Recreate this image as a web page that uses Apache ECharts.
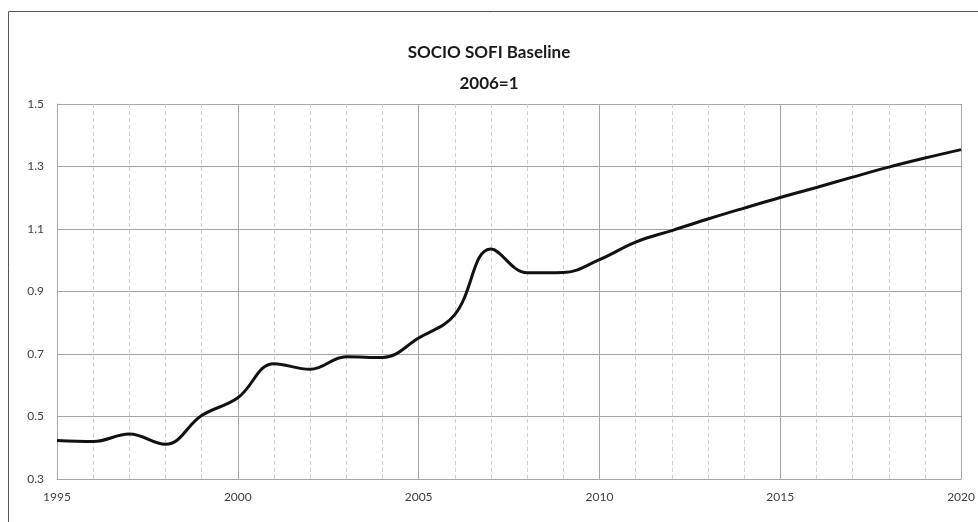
<!DOCTYPE html>
<html>
<head>
<meta charset="utf-8">
<script src="https://cdn.jsdelivr.net/npm/echarts@6/dist/echarts.min.js"></script>
<style>html,body{margin:0;padding:0;background:#fff}#c{width:978px;height:522px}</style>
</head>
<body>
<div id="c"></div>
<script>
const titleText = 'SOCIO SOFI Baseline';
const subtitleText = '2006=1';
const years = [1995,1996,1997,1998,1999,2000,2001,2002,2003,2004,2005,2006,2007,2008,2009,2010,2011,2012,2013,2014,2015,2016,2017,2018,2019,2020];
const values = [0.423,0.420,0.444,0.411,0.503,0.560,0.669,0.651,0.691,0.689,0.751,0.826,1.036,0.960,0.961,1.002,1.058,1.095,1.132,1.167,1.201,1.233,1.266,1.298,1.327,1.354];
const xMin = 1995, xMax = 2020, xStep = 5;
const yMin = 0.3, yMax = 1.5, yStep = 0.2;

const font = 'Lato, "Open Sans", sans-serif';
const chart = echarts.init(document.getElementById('c'), null, {renderer: 'canvas'});
chart.setOption({
  animation: false,
  backgroundColor: '#fff',
  title: {
    text: titleText + '\n' + subtitleText,
    left: 'center',
    top: 32,
    textStyle: {fontFamily: font, fontWeight: 'bold', fontSize: 17, color: '#1a1a1a', lineHeight: 31}
  },
  graphic: [{
    type: 'rect', silent: true, z: -1,
    shape: {x: 8.5, y: 11.5, width: 1200, height: 800},
    style: {fill: null, stroke: '#555', lineWidth: 1}
  }],
  grid: {left: 57, right: 14, top: 104, bottom: 43, containLabel: false},
  xAxis: {
    type: 'value', min: xMin, max: xMax, interval: xStep,
    axisLine: {show: true, lineStyle: {color: '#a6a6a6', width: 1}},
    axisTick: {show: false},
    axisLabel: {margin: 12, fontFamily: font, fontSize: 12, color: '#404040', formatter: v => String(v)},
    splitLine: {show: true, lineStyle: {color: '#a6a6a6', width: 1}},
    minorTick: {show: false, splitNumber: 5},
    minorSplitLine: {show: true, lineStyle: {color: '#cfcfcf', width: 1, type: [4, 3]}}
  },
  yAxis: {
    type: 'value', min: yMin, max: yMax, interval: yStep,
    axisLine: {show: true, lineStyle: {color: '#a6a6a6', width: 1}},
    axisTick: {show: false},
    axisLabel: {margin: 13, fontFamily: font, fontSize: 12, color: '#404040', formatter: v => v.toFixed(1)},
    splitLine: {show: true, lineStyle: {color: '#a6a6a6', width: 1}}
  },
  series: [{
    type: 'line',
    data: years.map((y, i) => [y, values[i]]),
    smooth: 0.4,
    showSymbol: false,
    lineStyle: {color: '#111', width: 3},
    clip: false
  }]
});
</script>
</body>
</html>
